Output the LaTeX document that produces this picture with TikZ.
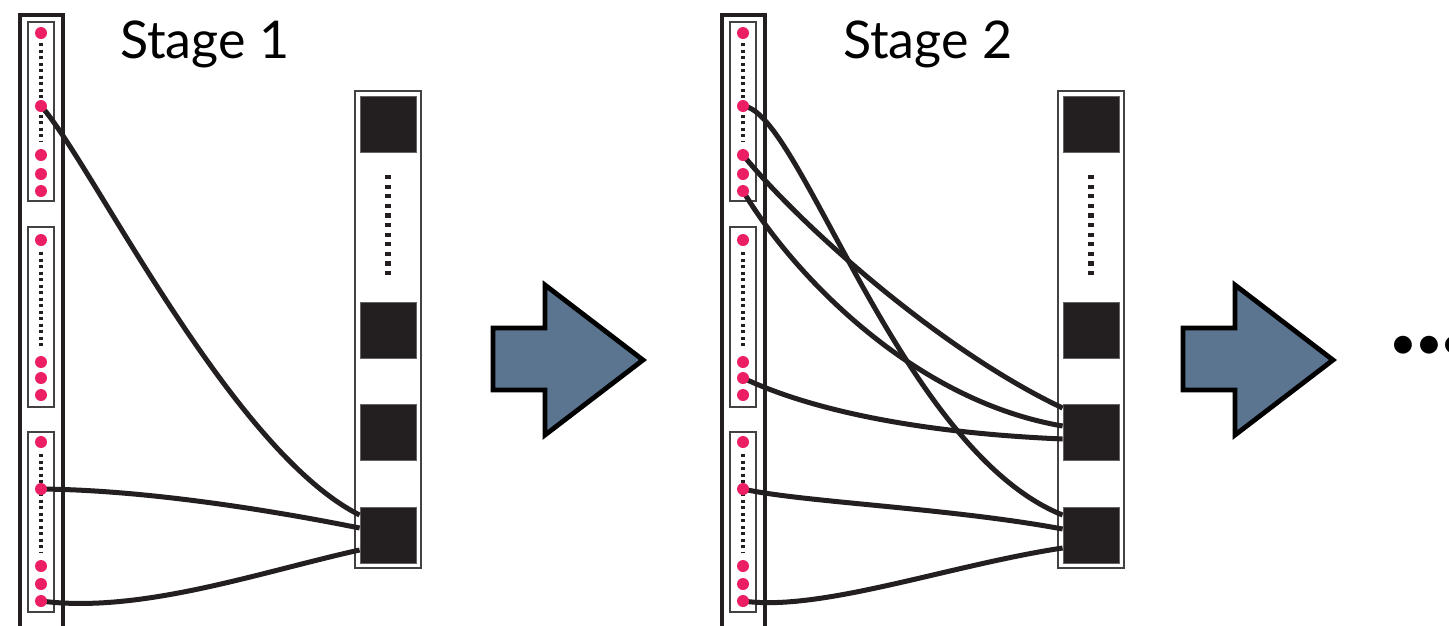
\documentclass[tikz,border=0pt]{standalone}
\usepackage{fontspec}
\setmainfont{Lato}
\pgfdeclarelayer{fg}
\pgfsetlayers{main,fg}
\definecolor{ink}{HTML}{231F20}
\definecolor{dotpink}{HTML}{EC1E64}
\definecolor{arrowblue}{HTML}{5B7591}
\tikzset{
 outerbar/.style={draw=ink, line width=3.8pt},
 innerbox/.style={draw=ink!85, line width=2pt},
 pdot/.style={circle, fill=dotpink, inner sep=0pt, minimum size=12pt},
 sq/.style={fill=ink, draw=ink!70, line width=0.8pt, minimum width=56pt, minimum height=56pt, inner sep=0pt},
 conn/.style={draw=ink, line width=5pt},
 smalldots/.style={draw=ink, line width=3.3pt, dash pattern=on 3pt off 3.5pt},
 bigdots/.style={draw=ink, line width=5.5pt, dash pattern=on 4.2pt off 5.4pt},
 bigarrow/.style={draw=black, line width=4.8pt, fill=arrowblue, line join=miter},
 title/.style={font=\fontsize{52}{62}\selectfont, anchor=base west, inner sep=0pt},
}
\newcommand\stageleft[2]{%
 \begin{scope}[xshift=#2pt]
  \draw[outerbar] (20,640) -- (20,15) -- (63,15) -- (63,640);
  \draw[innerbox] (28,22) rectangle (54,201);
  \draw[innerbox] (28,227) rectangle (54,407);
  \draw[innerbox] (28,432) rectangle (54,612);
  \draw[smalldots] (41,43) -- (41,141);
  \draw[smalldots] (41,252) -- (41,349);
  \draw[smalldots] (41,454) -- (41,553);
  \begin{pgfonlayer}{fg}
   \foreach \i/\y in {1/33,2/106,3/155,4/174,5/191,6/240,7/362,8/378,9/395,10/442,11/489,12/566,13/584,14/601}
     \node[pdot] (#1d\i) at (41,\y) {};
  \end{pgfonlayer}
 \end{scope}}
\newcommand\stageright[2]{%
 \begin{scope}[xshift=#2pt]
  \draw[innerbox] (355,91) rectangle (421,568);
  \node[sq] (#1q1) at (388,124) {};
  \node[sq] (#1q2) at (388,330) {};
  \node[sq] (#1q3) at (388,432) {};
  \node[sq] (#1q4) at (388,535.5) {};
  \draw[bigdots] (388,175) -- (388,275);
 \end{scope}}
\begin{document}
\begin{tikzpicture}[x=1pt,y=-1pt]
\useasboundingbox (0,0) rectangle (1449,625);
\fill[white] (0,0) rectangle (1449,625);

\stageleft{a}{0}
\stageright{a}{0}
\stageleft{b}{702}
\stageright{b}{703}

\node[title] (t1) at (120,58) {Stage 1};
\node[title] (t2) at (843,58) {Stage 2};

% stage 1 connectors
\draw[conn] (ad2.center) .. controls (90,160) and (230,450) .. ([yshift=20.5pt]aq4.west);
\draw[conn] (ad11.center) .. controls (150,490) and (280,512) .. ([yshift=7.5pt]aq4.west);
\draw[conn] (ad14.center) .. controls (140,614) and (260,572) .. ([yshift=-14.5pt]aq4.west);

% stage 2 connectors
\draw[conn] (bd2.center) .. controls (800,110) and (900,450) .. ([yshift=20.5pt]bq4.west);
\draw[conn] (bd3.center) .. controls (800,225) and (940,350) .. ([yshift=24pt]bq3.west);
\draw[conn] (bd5.center) .. controls (790,270) and (910,400) .. ([yshift=6pt]bq3.west);
\draw[conn] (bd8.center) .. controls (800,405) and (900,432) .. ([yshift=-7pt]bq3.west);
\draw[conn] (bd11.center) .. controls (800,502) and (950,508) .. ([yshift=6.5pt]bq4.west);
\draw[conn] (bd14.center) .. controls (820,612) and (950,565) .. ([yshift=-12.5pt]bq4.west);

% big arrows
\draw[bigarrow] (493,328) -- (545,328) -- (545,285) -- (643,360) -- (545,435) -- (545,390) -- (493,390) -- cycle;
\begin{scope}[xshift=690pt]
\draw[bigarrow] (493,328) -- (545,328) -- (545,285) -- (643,360) -- (545,435) -- (545,390) -- (493,390) -- cycle;
\end{scope}

\node[font=\fontsize{48}{56}\selectfont, anchor=west, inner sep=0pt] (ell) at (1389,348) {•\hspace{-2pt}•\hspace{-2pt}•};
\end{tikzpicture}
\end{document}
